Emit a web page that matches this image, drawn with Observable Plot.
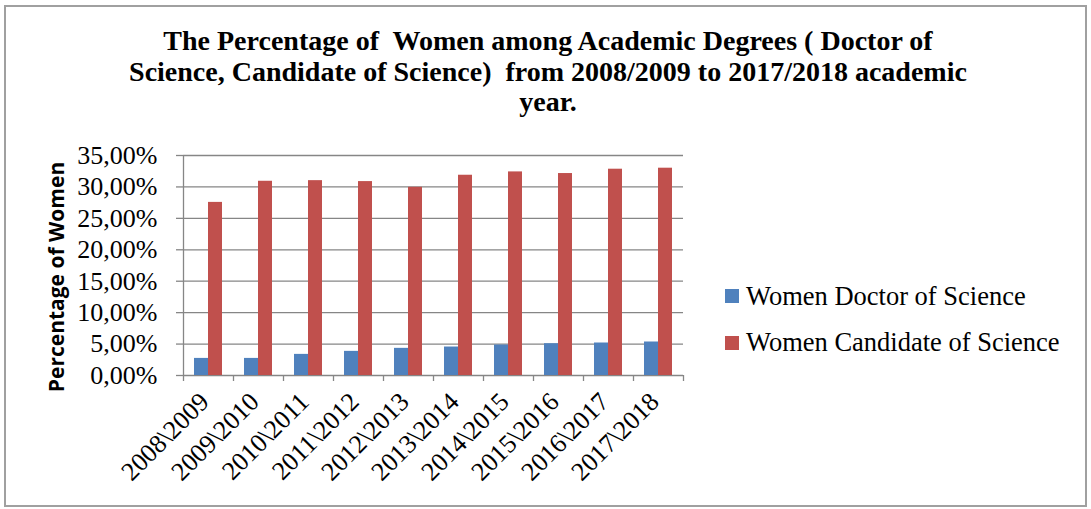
<!DOCTYPE html>
<html>
<head>
<meta charset="utf-8">
<script src="https://cdn.jsdelivr.net/npm/d3@7"></script>
<script src="https://cdn.jsdelivr.net/npm/@observablehq/plot@0.6"></script>
<style>
  html, body { margin: 0; padding: 0; background: #fff; }
  #wrap { position: relative; width: 1091px; height: 509px; overflow: hidden; }
  #border { position: absolute; left: 4px; top: 5px; width: 1083px; height: 502px; border: 2px solid #a0a0a0; box-sizing: border-box; pointer-events: none; }
  #title { position: absolute; left: 0; width: 1096px; top: 26px; text-align: center; font-family: "Liberation Serif", "Times New Roman", serif; font-weight: bold; font-size: 28px; line-height: 30.5px; color: #000; }
  #ytitle { position: absolute; left: 56px; top: 277px; transform: translate(-50%, -50%) rotate(-90deg); white-space: nowrap; font-family: "Open Sans", "Noto Sans", sans-serif; font-weight: bold; font-size: 21px; color: #000; }
  .leg { position: absolute; left: 725px; font-family: "Liberation Serif", "Times New Roman", serif; font-size: 26.5px; color: #000; white-space: nowrap; display: flex; align-items: center; }
  .sw { width: 14px; height: 14px; margin-right: 7px; }
  #plot { position: absolute; left: 0; top: 0; }
</style>
</head>
<body>
<div id="wrap">
  <div id="plot"></div>
  <div id="title">The Percentage of&nbsp; Women among Academic Degrees ( Doctor of<br>Science, Candidate of Science)&nbsp; from 2008/2009 to 2017/2018 academic<br>year.</div>
  <div id="ytitle">Percentage of Women</div>
  <div id="legend"></div>
  <div id="border"></div>
</div>
<script>
const years = ["2008\\2009", "2009\\2010", "2010\\2011", "2011\\2012", "2012\\2013", "2013\\2014", "2014\\2015", "2015\\2016", "2016\\2017", "2017\\2018"];
const doctor = [2.72, 2.72, 3.36, 3.84, 4.32, 4.53, 4.85, 5.06, 5.17, 5.33];
const candidate = [27.54, 30.9, 31.0, 30.85, 29.94, 31.86, 32.39, 32.13, 32.82, 32.98];
const seriesNames = ["Women Doctor of Science", "Women Candidate of Science"];
const seriesColors = ["#4F81BD", "#C0504D"];
const yTicks = [0, 5, 10, 15, 20, 25, 30, 35];

const docData = years.map((y, i) => ({year: y, value: doctor[i]}));
const candData = years.map((y, i) => ({year: y, value: candidate[i]}));

const fmt = d => d.toFixed(2).replace(".", ",") + "%";

const chart = Plot.plot({
  width: 1091,
  height: 509,
  marginLeft: 183,
  marginRight: 408,
  marginTop: 155,
  marginBottom: 134,
  style: { fontFamily: "'Liberation Serif', 'Times New Roman', serif", background: "transparent", color: "#000" },
  x: { type: "band", domain: years, padding: 0, axis: null },
  y: { domain: [0, 35], axis: null },
  marks: [
    Plot.ruleY(yTicks, { y: d => d, stroke: "#868686", strokeWidth: 1.3 }),
    Plot.barY(docData, { x: "year", y: "value", fill: seriesColors[0], insetLeft: 11, insetRight: 25 }),
    Plot.barY(candData, { x: "year", y: "value", fill: seriesColors[1], insetLeft: 25, insetRight: 11 }),
    // left axis line
    Plot.ruleX([years[0]], { x: d => d, dx: -25, stroke: "#868686", strokeWidth: 1.3, insetBottom: -6 }),
    // x tick marks at category boundaries
    Plot.ruleX(years.slice(1), { x: d => d, dx: -25, stroke: "#868686", strokeWidth: 1.3, insetTop: 220, insetBottom: -6 }),
    Plot.ruleX([years[years.length - 1]], { x: d => d, dx: 25, stroke: "#868686", strokeWidth: 1.3, insetTop: 220, insetBottom: -6 }),
    Plot.axisY({ ticks: yTicks, tickFormat: fmt, tickSize: 7, tickPadding: 19, fontSize: 26, stroke: "#868686", strokeWidth: 1.3, label: null }),
    Plot.axisX({ tickSize: 0, tickRotate: -45, tickPadding: 22, fontSize: 26, label: null, textAnchor: "end", dx: -4 })
  ]
});
document.getElementById("plot").appendChild(chart);

const leg = document.getElementById("legend");
const legTops = [280.5, 327];
seriesNames.forEach((name, i) => {
  const row = document.createElement("div");
  row.className = "leg";
  row.style.top = legTops[i] + "px";
  const sw = document.createElement("span");
  sw.className = "sw";
  sw.style.background = seriesColors[i];
  const t = document.createElement("span");
  t.textContent = name;
  row.appendChild(sw);
  row.appendChild(t);
  leg.appendChild(row);
});
</script>
</body>
</html>
